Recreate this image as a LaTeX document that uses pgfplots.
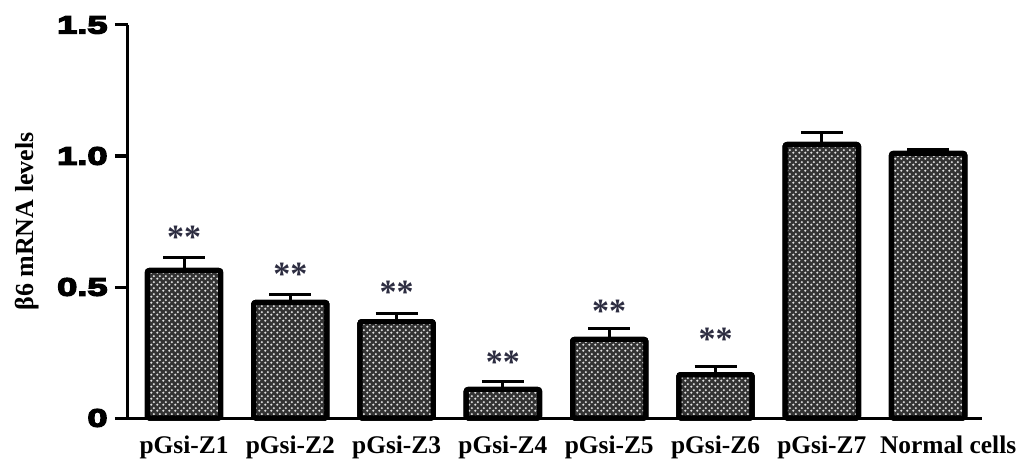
\documentclass[border=0pt]{standalone}
\usepackage{fontspec}
\setmainfont{Liberation Serif}
\newfontfamily\tickfont{Liberation Sans}[BoldFeatures={FakeStretch=1.45,FakeBold=6}]
\usepackage{pgfplots}
\pgfplotsset{compat=1.18}
\usetikzlibrary{patterns}
\definecolor{starcol}{RGB}{45,45,65}
\pgfdeclarepatternformonly{mydots}{\pgfqpoint{0pt}{0pt}}{\pgfqpoint{3pt}{3pt}}{\pgfqpoint{3pt}{3pt}}{%
  \pgfpathcircle{\pgfqpoint{0.75pt}{0.75pt}}{0.7pt}%
  \pgfpathcircle{\pgfqpoint{2.25pt}{2.25pt}}{0.7pt}%
  \pgfusepath{fill}}
\begin{document}
\begin{tikzpicture}
\useasboundingbox (-64pt,-26.5pt) rectangle (451.5pt,209pt);
\begin{axis}[
  at={(0,0)}, anchor=south west,
  scale only axis, width=427pt, height=196.5pt,
  xmin=-0.527, xmax=7.507, ymin=0, ymax=1.5,
  axis x line*=bottom, axis y line*=left,
  axis line style={line width=1.5pt, -},
  xtick={0,...,7},
  xticklabels={pGsi-Z1,pGsi-Z2,pGsi-Z3,pGsi-Z4,pGsi-Z5,pGsi-Z6,pGsi-Z7,\hspace*{20pt}Normal cells},
  x tick style={draw=none},
  ytick={0,0.5,1,1.5}, yticklabels={0,0.5,1.0,1.5},
  y tick style={line width=1.5pt, black},
  tick align=outside, major tick length=6.5pt,
  yticklabel style={font=\tickfont\bfseries\fontsize{12.5}{14}\selectfont, inner sep=1pt, xshift=-2.5pt},
  xticklabel style={font=\bfseries\fontsize{12.7}{15}\selectfont, yshift=1pt},
  ylabel={β6 mRNA levels},
  every axis y label/.style={at={(axis description cs:-0.118,0.5)}, rotate=90, anchor=center, font=\bfseries\fontsize{13}{15}\selectfont},
  clip=false,
]
\addplot[ybar, bar width=0.69, bar shift=0pt, draw=black, line width=2.5pt, rounded corners=1pt,
  preaction={fill=black!80},
  preaction={pattern=mydots, pattern color=white!88!black},
  error bars/.cd, y dir=plus, y explicit,
  error bar style={line width=1.5pt, black, rounded corners=0pt},
  error mark options={rotate=90, mark size=10.5pt, line width=1.5pt, black}]
coordinates {
  (0,0.563) +- (0,0.050)
  (1,0.441) +- (0,0.030)
  (2,0.368) +- (0,0.031)
  (3,0.109) +- (0,0.030)
  (4,0.300) +- (0,0.042)
  (5,0.166) +- (0,0.031)
  (6,1.044) +- (0,0.046)
  (7,1.010) +- (0,0.015)
};
\addplot[draw=none, mark=none, nodes near coords={**},
  every node near coord/.append style={font=\bfseries\fontsize{17}{17}\selectfont, text=starcol, anchor=center}]
coordinates {
  (0,0.690) (1,0.550) (2,0.481) (3,0.214) (4,0.409) (5,0.302)
};
\end{axis}
\end{tikzpicture}
\end{document}
